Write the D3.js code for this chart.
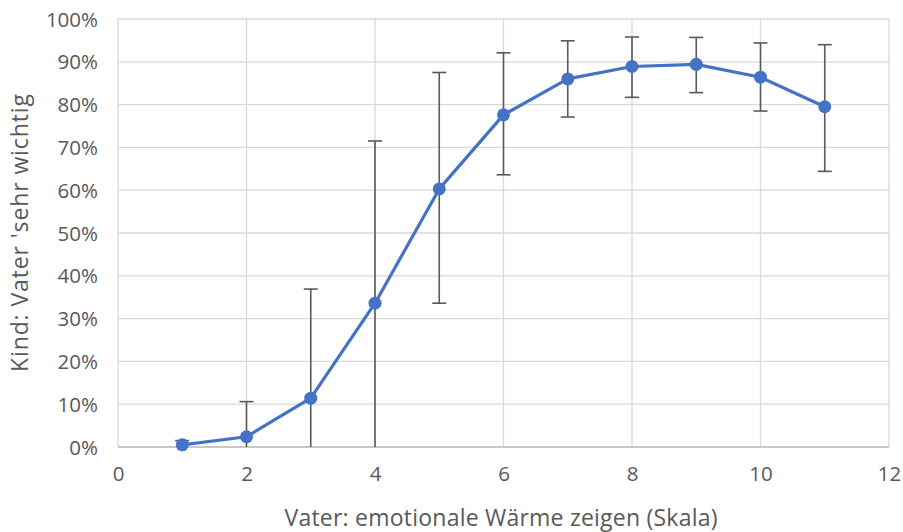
<!DOCTYPE html>
<html>
<head>
<meta charset="utf-8">
<script src="https://cdn.jsdelivr.net/npm/d3@7"></script>
<style>
  body { margin: 0; background: #fff; }
  svg text { font-family: "Open Sans", "Noto Sans", sans-serif; fill: #595959; }
</style>
</head>
<body>
<div id="chart"></div>
<script>
// Scale values (x) and share of children rating father 'very important'
const scaleValues = [1, 2, 3, 4, 5, 6, 7, 8, 9, 10, 11];
const share = [0.005, 0.024, 0.114, 0.336, 0.603, 0.776, 0.860, 0.889, 0.894, 0.864, 0.795];
const errLow = [0.0, 0.0, 0.0, 0.0, 0.336, 0.636, 0.771, 0.817, 0.828, 0.785, 0.644];
const errHigh = [0.015, 0.106, 0.369, 0.715, 0.875, 0.921, 0.949, 0.958, 0.957, 0.944, 0.940];
const xTicks = [0, 2, 4, 6, 8, 10, 12];
const yTicks = [0, 0.1, 0.2, 0.3, 0.4, 0.5, 0.6, 0.7, 0.8, 0.9, 1.0];

const width = 903;
const height = 532;
const marginTop = 19;
const marginRight = 14;
const marginBottom = 85;
const marginLeft = 118;

const x = d3.scaleLinear([0, 12], [marginLeft, width - marginRight]);
const y = d3.scaleLinear([0, 1], [height - marginBottom, marginTop]);

const svg = d3.select("#chart").append("svg")
    .attr("width", width)
    .attr("height", height)
    .attr("viewBox", [0, 0, width, height]);

// Gridlines
svg.append("g")
    .selectAll("line")
    .data(yTicks)
    .join("line")
    .attr("x1", x(0)).attr("x2", x(12))
    .attr("y1", d => y(d)).attr("y2", d => y(d))
    .attr("stroke", "#d9d9d9")
    .attr("stroke-width", 1.3);

svg.append("g")
    .selectAll("line")
    .data(xTicks)
    .join("line")
    .attr("x1", d => x(d)).attr("x2", d => x(d))
    .attr("y1", y(0)).attr("y2", y(1))
    .attr("stroke", "#d9d9d9")
    .attr("stroke-width", 1.3);

// Bottom axis line
svg.append("line")
    .attr("x1", x(0)).attr("x2", x(12))
    .attr("y1", y(0)).attr("y2", y(0))
    .attr("stroke", "#bfbfbf")
    .attr("stroke-width", 1.3);

// Axes labels
const yAxis = svg.append("g")
    .attr("transform", `translate(${marginLeft},0)`)
    .call(d3.axisLeft(y).tickValues(yTicks).tickFormat(d3.format(".0%")).tickSize(0).tickPadding(20));
yAxis.select(".domain").remove();
yAxis.selectAll("text").attr("font-size", 20.5).attr("dy", "0.35em");

const xAxis = svg.append("g")
    .attr("transform", `translate(0,${y(0)})`)
    .call(d3.axisBottom(x).tickValues(xTicks).tickFormat(d3.format("d")).tickSize(0).tickPadding(19));
xAxis.select(".domain").remove();
xAxis.selectAll("text").attr("font-size", 20.5).attr("dy", "0.71em");

// Error bars
const bars = svg.append("g")
    .attr("stroke", "#595959")
    .attr("stroke-width", 1.6);

scaleValues.forEach((v, i) => {
    const cx = x(v);
    bars.append("line")
        .attr("x1", cx).attr("x2", cx)
        .attr("y1", y(errLow[i])).attr("y2", y(errHigh[i]));
    bars.append("line")
        .attr("x1", cx - 7).attr("x2", cx + 7)
        .attr("y1", y(errHigh[i])).attr("y2", y(errHigh[i]));
    if (errLow[i] > 0) {
        bars.append("line")
            .attr("x1", cx - 7).attr("x2", cx + 7)
            .attr("y1", y(errLow[i])).attr("y2", y(errLow[i]));
    }
});

// Line and markers
const line = d3.line()
    .x((d, i) => x(scaleValues[i]))
    .y(d => y(d));

svg.append("path")
    .attr("fill", "none")
    .attr("stroke", "#4472c4")
    .attr("stroke-width", 3.2)
    .attr("stroke-linejoin", "round")
    .attr("d", line(share));

svg.append("g")
    .selectAll("circle")
    .data(share)
    .join("circle")
    .attr("cx", (d, i) => x(scaleValues[i]))
    .attr("cy", d => y(d))
    .attr("r", 6.5)
    .attr("fill", "#4472c4");

// Axis titles
svg.append("text")
    .attr("x", 501)
    .attr("y", 526)
    .attr("text-anchor", "middle")
    .attr("font-size", 23)
    .attr("textLength", 433)
    .text("Vater: emotionale Wärme zeigen (Skala)");

svg.append("text")
    .attr("transform", `translate(28,233) rotate(-90)`)
    .attr("text-anchor", "middle")
    .attr("font-size", 23)
    .attr("textLength", 278)
    .text("Kind: Vater 'sehr wichtig");
</script>
</body>
</html>
